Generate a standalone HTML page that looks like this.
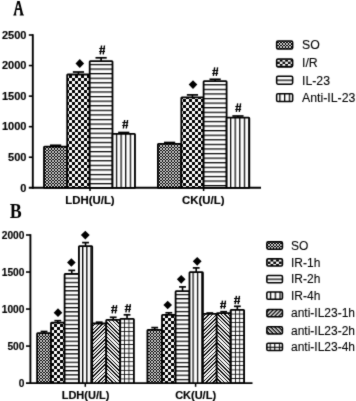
<!DOCTYPE html>
<html><head><meta charset="utf-8"><style>
html,body{margin:0;padding:0;background:#fff;}
body{width:356px;height:401px;overflow:hidden;}
svg{display:block;filter:grayscale(1);}
.ax{font-family:"Liberation Sans",sans-serif;font-weight:bold;font-size:11px;stroke:#000;stroke-width:0.15px;}
.axl{font-family:"Liberation Sans",sans-serif;font-weight:bold;font-size:11.4px;stroke:#000;stroke-width:0.15px;}
.ax2{font-family:"Liberation Sans",sans-serif;font-weight:bold;font-size:10.2px;stroke:#000;stroke-width:0.15px;}
.lg{font-family:"Liberation Sans",sans-serif;font-size:12px;stroke:#000;stroke-width:0.1px;}
.lga{font-family:"Liberation Sans",sans-serif;font-size:12.3px;stroke:#000;stroke-width:0.1px;}
</style></head><body>
<svg width="356" height="401" viewBox="0 0 356 401">
<defs>
<filter id="soft" x="0" y="0" width="356" height="401" filterUnits="userSpaceOnUse" color-interpolation-filters="sRGB"><feConvolveMatrix order="3" kernelMatrix="0.02 0.08 0.02 0.08 0.6 0.08 0.02 0.08 0.02" edgeMode="duplicate" preserveAlpha="true"/></filter>
<pattern id="so1" patternUnits="userSpaceOnUse" x="0" y="0" width="3" height="3"><rect width="3" height="3" fill="#000"/><rect width="1" height="1" fill="#fff"/><rect x="1" y="1" width="2" height="2" fill="#c4c4c4"/></pattern>
<pattern id="ck2" patternUnits="userSpaceOnUse" x="0" y="0" width="6" height="6"><rect width="6" height="6" fill="#fff"/><rect width="3" height="3" fill="#000"/><rect x="3" y="3" width="3" height="3" fill="#000"/></pattern>
<pattern id="h3" patternUnits="userSpaceOnUse" x="0" y="63.875" width="20" height="4.585"><rect width="20" height="4.585" fill="#fff"/><rect width="20" height="1.25" fill="#000"/></pattern>
<pattern id="v4" patternUnits="userSpaceOnUse" x="115.875" y="0" width="4.62" height="20"><rect width="4.62" height="20" fill="#fff"/><rect width="1.25" height="20" fill="#000"/></pattern>
<pattern id="so5" patternUnits="userSpaceOnUse" x="0" y="0" width="3" height="3"><rect width="3" height="3" fill="#000"/><rect width="1" height="1" fill="#fff"/><rect x="1" y="1" width="2" height="2" fill="#c4c4c4"/></pattern>
<pattern id="ck6" patternUnits="userSpaceOnUse" x="0" y="0" width="6" height="6"><rect width="6" height="6" fill="#fff"/><rect width="3" height="3" fill="#000"/><rect x="3" y="3" width="3" height="3" fill="#000"/></pattern>
<pattern id="h7" patternUnits="userSpaceOnUse" x="0" y="84.175" width="20" height="4.585"><rect width="20" height="4.585" fill="#fff"/><rect width="20" height="1.25" fill="#000"/></pattern>
<pattern id="v8" patternUnits="userSpaceOnUse" x="229.975" y="0" width="4.6" height="20"><rect width="4.6" height="20" fill="#fff"/><rect width="1.25" height="20" fill="#000"/></pattern>
<pattern id="so9" patternUnits="userSpaceOnUse" x="0" y="0" width="3" height="3"><rect width="3" height="3" fill="#000"/><rect width="1" height="1" fill="#fff"/><rect x="1" y="1" width="2" height="2" fill="#c4c4c4"/></pattern>
<pattern id="ck10" patternUnits="userSpaceOnUse" x="274.4" y="59.6" width="5.4" height="4.3"><rect width="5.4" height="4.3" fill="#fff"/><rect width="2.7" height="2.15" fill="#000"/><rect x="2.7" y="2.15" width="2.7" height="2.15" fill="#000"/></pattern>
<pattern id="h11" patternUnits="userSpaceOnUse" x="0" y="79.55" width="20" height="10"><rect width="20" height="10" fill="#fff"/><rect width="20" height="1.3" fill="#000"/></pattern>
<pattern id="v12" patternUnits="userSpaceOnUse" x="279.25" y="0" width="4.75" height="20"><rect width="4.75" height="20" fill="#fff"/><rect width="1.3" height="20" fill="#000"/></pattern>
<pattern id="so13" patternUnits="userSpaceOnUse" x="0" y="0" width="3" height="3"><rect width="3" height="3" fill="#000"/><rect width="1" height="1" fill="#fff"/><rect x="1" y="1" width="2" height="2" fill="#c4c4c4"/></pattern>
<pattern id="ck14" patternUnits="userSpaceOnUse" x="0" y="0" width="6" height="6"><rect width="6" height="6" fill="#fff"/><rect width="3" height="3" fill="#000"/><rect x="3" y="3" width="3" height="3" fill="#000"/></pattern>
<pattern id="h15" patternUnits="userSpaceOnUse" x="0" y="277.575" width="20" height="4.204"><rect width="20" height="4.204" fill="#fff"/><rect width="20" height="1.25" fill="#000"/></pattern>
<pattern id="v16" patternUnits="userSpaceOnUse" x="82.075" y="0" width="4.15" height="20"><rect width="4.15" height="20" fill="#fff"/><rect width="1.25" height="20" fill="#000"/></pattern>
<pattern id="pd17" patternUnits="userSpaceOnUse" width="18" height="18"><rect width="18" height="18" fill="#fff"/><rect x="0" y="0" width="2" height="1"/><rect x="4" y="0" width="1" height="1"/><rect x="8" y="0" width="1" height="1"/><rect x="11" y="0" width="2" height="1"/><rect x="15" y="0" width="1" height="1"/><rect x="0" y="1" width="1" height="1"/><rect x="3" y="1" width="1" height="1"/><rect x="7" y="1" width="1" height="1"/><rect x="10" y="1" width="2" height="1"/><rect x="14" y="1" width="1" height="1"/><rect x="17" y="1" width="1" height="1"/><rect x="2" y="2" width="1" height="1"/><rect x="6" y="2" width="1" height="1"/><rect x="9" y="2" width="2" height="1"/><rect x="13" y="2" width="1" height="1"/><rect x="16" y="2" width="2" height="1"/><rect x="1" y="3" width="1" height="1"/><rect x="5" y="3" width="1" height="1"/><rect x="8" y="3" width="2" height="1"/><rect x="12" y="3" width="1" height="1"/><rect x="15" y="3" width="2" height="1"/><rect x="0" y="4" width="1" height="1"/><rect x="4" y="4" width="1" height="1"/><rect x="7" y="4" width="2" height="1"/><rect x="11" y="4" width="1" height="1"/><rect x="14" y="4" width="2" height="1"/><rect x="3" y="5" width="1" height="1"/><rect x="6" y="5" width="2" height="1"/><rect x="10" y="5" width="1" height="1"/><rect x="13" y="5" width="2" height="1"/><rect x="17" y="5" width="1" height="1"/><rect x="2" y="6" width="1" height="1"/><rect x="5" y="6" width="2" height="1"/><rect x="9" y="6" width="1" height="1"/><rect x="12" y="6" width="2" height="1"/><rect x="16" y="6" width="1" height="1"/><rect x="1" y="7" width="1" height="1"/><rect x="4" y="7" width="2" height="1"/><rect x="8" y="7" width="1" height="1"/><rect x="11" y="7" width="2" height="1"/><rect x="15" y="7" width="1" height="1"/><rect x="0" y="8" width="1" height="1"/><rect x="3" y="8" width="2" height="1"/><rect x="7" y="8" width="1" height="1"/><rect x="10" y="8" width="2" height="1"/><rect x="14" y="8" width="1" height="1"/><rect x="2" y="9" width="2" height="1"/><rect x="6" y="9" width="1" height="1"/><rect x="9" y="9" width="2" height="1"/><rect x="13" y="9" width="1" height="1"/><rect x="17" y="9" width="1" height="1"/><rect x="1" y="10" width="2" height="1"/><rect x="5" y="10" width="1" height="1"/><rect x="8" y="10" width="2" height="1"/><rect x="12" y="10" width="1" height="1"/><rect x="16" y="10" width="1" height="1"/><rect x="0" y="11" width="2" height="1"/><rect x="4" y="11" width="1" height="1"/><rect x="7" y="11" width="2" height="1"/><rect x="11" y="11" width="1" height="1"/><rect x="15" y="11" width="1" height="1"/><rect x="0" y="12" width="1" height="1"/><rect x="3" y="12" width="1" height="1"/><rect x="6" y="12" width="2" height="1"/><rect x="10" y="12" width="1" height="1"/><rect x="14" y="12" width="1" height="1"/><rect x="17" y="12" width="1" height="1"/><rect x="2" y="13" width="1" height="1"/><rect x="5" y="13" width="2" height="1"/><rect x="9" y="13" width="1" height="1"/><rect x="13" y="13" width="1" height="1"/><rect x="16" y="13" width="2" height="1"/><rect x="1" y="14" width="1" height="1"/><rect x="4" y="14" width="2" height="1"/><rect x="8" y="14" width="1" height="1"/><rect x="12" y="14" width="1" height="1"/><rect x="15" y="14" width="2" height="1"/><rect x="0" y="15" width="1" height="1"/><rect x="3" y="15" width="2" height="1"/><rect x="7" y="15" width="1" height="1"/><rect x="11" y="15" width="1" height="1"/><rect x="14" y="15" width="2" height="1"/><rect x="2" y="16" width="2" height="1"/><rect x="6" y="16" width="1" height="1"/><rect x="10" y="16" width="1" height="1"/><rect x="13" y="16" width="2" height="1"/><rect x="17" y="16" width="1" height="1"/><rect x="1" y="17" width="2" height="1"/><rect x="5" y="17" width="1" height="1"/><rect x="9" y="17" width="1" height="1"/><rect x="12" y="17" width="2" height="1"/><rect x="16" y="17" width="1" height="1"/></pattern>
<pattern id="pd18" patternUnits="userSpaceOnUse" width="18" height="18"><rect width="18" height="18" fill="#fff"/><rect x="0" y="0" width="2" height="1"/><rect x="4" y="0" width="1" height="1"/><rect x="8" y="0" width="1" height="1"/><rect x="11" y="0" width="2" height="1"/><rect x="15" y="0" width="1" height="1"/><rect x="1" y="1" width="2" height="1"/><rect x="5" y="1" width="1" height="1"/><rect x="9" y="1" width="1" height="1"/><rect x="12" y="1" width="2" height="1"/><rect x="16" y="1" width="1" height="1"/><rect x="2" y="2" width="2" height="1"/><rect x="6" y="2" width="1" height="1"/><rect x="10" y="2" width="1" height="1"/><rect x="13" y="2" width="2" height="1"/><rect x="17" y="2" width="1" height="1"/><rect x="0" y="3" width="1" height="1"/><rect x="3" y="3" width="2" height="1"/><rect x="7" y="3" width="1" height="1"/><rect x="11" y="3" width="1" height="1"/><rect x="14" y="3" width="2" height="1"/><rect x="1" y="4" width="1" height="1"/><rect x="4" y="4" width="2" height="1"/><rect x="8" y="4" width="1" height="1"/><rect x="12" y="4" width="1" height="1"/><rect x="15" y="4" width="2" height="1"/><rect x="2" y="5" width="1" height="1"/><rect x="5" y="5" width="2" height="1"/><rect x="9" y="5" width="1" height="1"/><rect x="13" y="5" width="1" height="1"/><rect x="16" y="5" width="2" height="1"/><rect x="0" y="6" width="1" height="1"/><rect x="3" y="6" width="1" height="1"/><rect x="6" y="6" width="2" height="1"/><rect x="10" y="6" width="1" height="1"/><rect x="14" y="6" width="1" height="1"/><rect x="17" y="6" width="1" height="1"/><rect x="0" y="7" width="2" height="1"/><rect x="4" y="7" width="1" height="1"/><rect x="7" y="7" width="2" height="1"/><rect x="11" y="7" width="1" height="1"/><rect x="15" y="7" width="1" height="1"/><rect x="1" y="8" width="2" height="1"/><rect x="5" y="8" width="1" height="1"/><rect x="8" y="8" width="2" height="1"/><rect x="12" y="8" width="1" height="1"/><rect x="16" y="8" width="1" height="1"/><rect x="2" y="9" width="2" height="1"/><rect x="6" y="9" width="1" height="1"/><rect x="9" y="9" width="2" height="1"/><rect x="13" y="9" width="1" height="1"/><rect x="17" y="9" width="1" height="1"/><rect x="0" y="10" width="1" height="1"/><rect x="3" y="10" width="2" height="1"/><rect x="7" y="10" width="1" height="1"/><rect x="10" y="10" width="2" height="1"/><rect x="14" y="10" width="1" height="1"/><rect x="1" y="11" width="1" height="1"/><rect x="4" y="11" width="2" height="1"/><rect x="8" y="11" width="1" height="1"/><rect x="11" y="11" width="2" height="1"/><rect x="15" y="11" width="1" height="1"/><rect x="2" y="12" width="1" height="1"/><rect x="5" y="12" width="2" height="1"/><rect x="9" y="12" width="1" height="1"/><rect x="12" y="12" width="2" height="1"/><rect x="16" y="12" width="1" height="1"/><rect x="3" y="13" width="1" height="1"/><rect x="6" y="13" width="2" height="1"/><rect x="10" y="13" width="1" height="1"/><rect x="13" y="13" width="2" height="1"/><rect x="17" y="13" width="1" height="1"/><rect x="0" y="14" width="1" height="1"/><rect x="4" y="14" width="1" height="1"/><rect x="7" y="14" width="2" height="1"/><rect x="11" y="14" width="1" height="1"/><rect x="14" y="14" width="2" height="1"/><rect x="1" y="15" width="1" height="1"/><rect x="5" y="15" width="1" height="1"/><rect x="8" y="15" width="2" height="1"/><rect x="12" y="15" width="1" height="1"/><rect x="15" y="15" width="2" height="1"/><rect x="2" y="16" width="1" height="1"/><rect x="6" y="16" width="1" height="1"/><rect x="9" y="16" width="2" height="1"/><rect x="13" y="16" width="1" height="1"/><rect x="16" y="16" width="2" height="1"/><rect x="0" y="17" width="1" height="1"/><rect x="3" y="17" width="1" height="1"/><rect x="7" y="17" width="1" height="1"/><rect x="10" y="17" width="2" height="1"/><rect x="14" y="17" width="1" height="1"/><rect x="17" y="17" width="1" height="1"/></pattern>
<pattern id="g19" patternUnits="userSpaceOnUse" x="124" y="322.6" width="4.5" height="4.3"><rect width="4.5" height="4.3" fill="#fff"/><rect width="0.8" height="4.3" fill="#000"/><rect width="4.5" height="0.8" fill="#000"/></pattern>
<pattern id="so20" patternUnits="userSpaceOnUse" x="0" y="0" width="3" height="3"><rect width="3" height="3" fill="#000"/><rect width="1" height="1" fill="#fff"/><rect x="1" y="1" width="2" height="2" fill="#c4c4c4"/></pattern>
<pattern id="ck21" patternUnits="userSpaceOnUse" x="0" y="0" width="6" height="6"><rect width="6" height="6" fill="#fff"/><rect width="3" height="3" fill="#000"/><rect x="3" y="3" width="3" height="3" fill="#000"/></pattern>
<pattern id="h22" patternUnits="userSpaceOnUse" x="0" y="293.875" width="20" height="4.25"><rect width="20" height="4.25" fill="#fff"/><rect width="20" height="1.25" fill="#000"/></pattern>
<pattern id="v23" patternUnits="userSpaceOnUse" x="192.475" y="0" width="4.4" height="20"><rect width="4.4" height="20" fill="#fff"/><rect width="1.25" height="20" fill="#000"/></pattern>
<pattern id="pd24" patternUnits="userSpaceOnUse" width="18" height="18"><rect width="18" height="18" fill="#fff"/><rect x="0" y="0" width="2" height="1"/><rect x="4" y="0" width="1" height="1"/><rect x="8" y="0" width="1" height="1"/><rect x="11" y="0" width="2" height="1"/><rect x="15" y="0" width="1" height="1"/><rect x="0" y="1" width="1" height="1"/><rect x="3" y="1" width="1" height="1"/><rect x="7" y="1" width="1" height="1"/><rect x="10" y="1" width="2" height="1"/><rect x="14" y="1" width="1" height="1"/><rect x="17" y="1" width="1" height="1"/><rect x="2" y="2" width="1" height="1"/><rect x="6" y="2" width="1" height="1"/><rect x="9" y="2" width="2" height="1"/><rect x="13" y="2" width="1" height="1"/><rect x="16" y="2" width="2" height="1"/><rect x="1" y="3" width="1" height="1"/><rect x="5" y="3" width="1" height="1"/><rect x="8" y="3" width="2" height="1"/><rect x="12" y="3" width="1" height="1"/><rect x="15" y="3" width="2" height="1"/><rect x="0" y="4" width="1" height="1"/><rect x="4" y="4" width="1" height="1"/><rect x="7" y="4" width="2" height="1"/><rect x="11" y="4" width="1" height="1"/><rect x="14" y="4" width="2" height="1"/><rect x="3" y="5" width="1" height="1"/><rect x="6" y="5" width="2" height="1"/><rect x="10" y="5" width="1" height="1"/><rect x="13" y="5" width="2" height="1"/><rect x="17" y="5" width="1" height="1"/><rect x="2" y="6" width="1" height="1"/><rect x="5" y="6" width="2" height="1"/><rect x="9" y="6" width="1" height="1"/><rect x="12" y="6" width="2" height="1"/><rect x="16" y="6" width="1" height="1"/><rect x="1" y="7" width="1" height="1"/><rect x="4" y="7" width="2" height="1"/><rect x="8" y="7" width="1" height="1"/><rect x="11" y="7" width="2" height="1"/><rect x="15" y="7" width="1" height="1"/><rect x="0" y="8" width="1" height="1"/><rect x="3" y="8" width="2" height="1"/><rect x="7" y="8" width="1" height="1"/><rect x="10" y="8" width="2" height="1"/><rect x="14" y="8" width="1" height="1"/><rect x="2" y="9" width="2" height="1"/><rect x="6" y="9" width="1" height="1"/><rect x="9" y="9" width="2" height="1"/><rect x="13" y="9" width="1" height="1"/><rect x="17" y="9" width="1" height="1"/><rect x="1" y="10" width="2" height="1"/><rect x="5" y="10" width="1" height="1"/><rect x="8" y="10" width="2" height="1"/><rect x="12" y="10" width="1" height="1"/><rect x="16" y="10" width="1" height="1"/><rect x="0" y="11" width="2" height="1"/><rect x="4" y="11" width="1" height="1"/><rect x="7" y="11" width="2" height="1"/><rect x="11" y="11" width="1" height="1"/><rect x="15" y="11" width="1" height="1"/><rect x="0" y="12" width="1" height="1"/><rect x="3" y="12" width="1" height="1"/><rect x="6" y="12" width="2" height="1"/><rect x="10" y="12" width="1" height="1"/><rect x="14" y="12" width="1" height="1"/><rect x="17" y="12" width="1" height="1"/><rect x="2" y="13" width="1" height="1"/><rect x="5" y="13" width="2" height="1"/><rect x="9" y="13" width="1" height="1"/><rect x="13" y="13" width="1" height="1"/><rect x="16" y="13" width="2" height="1"/><rect x="1" y="14" width="1" height="1"/><rect x="4" y="14" width="2" height="1"/><rect x="8" y="14" width="1" height="1"/><rect x="12" y="14" width="1" height="1"/><rect x="15" y="14" width="2" height="1"/><rect x="0" y="15" width="1" height="1"/><rect x="3" y="15" width="2" height="1"/><rect x="7" y="15" width="1" height="1"/><rect x="11" y="15" width="1" height="1"/><rect x="14" y="15" width="2" height="1"/><rect x="2" y="16" width="2" height="1"/><rect x="6" y="16" width="1" height="1"/><rect x="10" y="16" width="1" height="1"/><rect x="13" y="16" width="2" height="1"/><rect x="17" y="16" width="1" height="1"/><rect x="1" y="17" width="2" height="1"/><rect x="5" y="17" width="1" height="1"/><rect x="9" y="17" width="1" height="1"/><rect x="12" y="17" width="2" height="1"/><rect x="16" y="17" width="1" height="1"/></pattern>
<pattern id="pd25" patternUnits="userSpaceOnUse" width="18" height="18"><rect width="18" height="18" fill="#fff"/><rect x="0" y="0" width="2" height="1"/><rect x="4" y="0" width="1" height="1"/><rect x="8" y="0" width="1" height="1"/><rect x="11" y="0" width="2" height="1"/><rect x="15" y="0" width="1" height="1"/><rect x="1" y="1" width="2" height="1"/><rect x="5" y="1" width="1" height="1"/><rect x="9" y="1" width="1" height="1"/><rect x="12" y="1" width="2" height="1"/><rect x="16" y="1" width="1" height="1"/><rect x="2" y="2" width="2" height="1"/><rect x="6" y="2" width="1" height="1"/><rect x="10" y="2" width="1" height="1"/><rect x="13" y="2" width="2" height="1"/><rect x="17" y="2" width="1" height="1"/><rect x="0" y="3" width="1" height="1"/><rect x="3" y="3" width="2" height="1"/><rect x="7" y="3" width="1" height="1"/><rect x="11" y="3" width="1" height="1"/><rect x="14" y="3" width="2" height="1"/><rect x="1" y="4" width="1" height="1"/><rect x="4" y="4" width="2" height="1"/><rect x="8" y="4" width="1" height="1"/><rect x="12" y="4" width="1" height="1"/><rect x="15" y="4" width="2" height="1"/><rect x="2" y="5" width="1" height="1"/><rect x="5" y="5" width="2" height="1"/><rect x="9" y="5" width="1" height="1"/><rect x="13" y="5" width="1" height="1"/><rect x="16" y="5" width="2" height="1"/><rect x="0" y="6" width="1" height="1"/><rect x="3" y="6" width="1" height="1"/><rect x="6" y="6" width="2" height="1"/><rect x="10" y="6" width="1" height="1"/><rect x="14" y="6" width="1" height="1"/><rect x="17" y="6" width="1" height="1"/><rect x="0" y="7" width="2" height="1"/><rect x="4" y="7" width="1" height="1"/><rect x="7" y="7" width="2" height="1"/><rect x="11" y="7" width="1" height="1"/><rect x="15" y="7" width="1" height="1"/><rect x="1" y="8" width="2" height="1"/><rect x="5" y="8" width="1" height="1"/><rect x="8" y="8" width="2" height="1"/><rect x="12" y="8" width="1" height="1"/><rect x="16" y="8" width="1" height="1"/><rect x="2" y="9" width="2" height="1"/><rect x="6" y="9" width="1" height="1"/><rect x="9" y="9" width="2" height="1"/><rect x="13" y="9" width="1" height="1"/><rect x="17" y="9" width="1" height="1"/><rect x="0" y="10" width="1" height="1"/><rect x="3" y="10" width="2" height="1"/><rect x="7" y="10" width="1" height="1"/><rect x="10" y="10" width="2" height="1"/><rect x="14" y="10" width="1" height="1"/><rect x="1" y="11" width="1" height="1"/><rect x="4" y="11" width="2" height="1"/><rect x="8" y="11" width="1" height="1"/><rect x="11" y="11" width="2" height="1"/><rect x="15" y="11" width="1" height="1"/><rect x="2" y="12" width="1" height="1"/><rect x="5" y="12" width="2" height="1"/><rect x="9" y="12" width="1" height="1"/><rect x="12" y="12" width="2" height="1"/><rect x="16" y="12" width="1" height="1"/><rect x="3" y="13" width="1" height="1"/><rect x="6" y="13" width="2" height="1"/><rect x="10" y="13" width="1" height="1"/><rect x="13" y="13" width="2" height="1"/><rect x="17" y="13" width="1" height="1"/><rect x="0" y="14" width="1" height="1"/><rect x="4" y="14" width="1" height="1"/><rect x="7" y="14" width="2" height="1"/><rect x="11" y="14" width="1" height="1"/><rect x="14" y="14" width="2" height="1"/><rect x="1" y="15" width="1" height="1"/><rect x="5" y="15" width="1" height="1"/><rect x="8" y="15" width="2" height="1"/><rect x="12" y="15" width="1" height="1"/><rect x="15" y="15" width="2" height="1"/><rect x="2" y="16" width="1" height="1"/><rect x="6" y="16" width="1" height="1"/><rect x="9" y="16" width="2" height="1"/><rect x="13" y="16" width="1" height="1"/><rect x="16" y="16" width="2" height="1"/><rect x="0" y="17" width="1" height="1"/><rect x="3" y="17" width="1" height="1"/><rect x="7" y="17" width="1" height="1"/><rect x="10" y="17" width="2" height="1"/><rect x="14" y="17" width="1" height="1"/><rect x="17" y="17" width="1" height="1"/></pattern>
<pattern id="g26" patternUnits="userSpaceOnUse" x="235" y="322.2" width="4.3" height="4.3"><rect width="4.3" height="4.3" fill="#fff"/><rect width="0.8" height="4.3" fill="#000"/><rect width="4.3" height="0.8" fill="#000"/></pattern>
<pattern id="so27" patternUnits="userSpaceOnUse" x="0" y="0" width="3" height="3"><rect width="3" height="3" fill="#000"/><rect width="1" height="1" fill="#fff"/><rect x="1" y="1" width="2" height="2" fill="#c4c4c4"/></pattern>
<pattern id="ck28" patternUnits="userSpaceOnUse" x="264.9" y="259.3" width="5.6" height="4.6"><rect width="5.6" height="4.6" fill="#fff"/><rect width="2.8" height="2.3" fill="#000"/><rect x="2.8" y="2.3" width="2.8" height="2.3" fill="#000"/></pattern>
<pattern id="h29" patternUnits="userSpaceOnUse" x="0" y="278.55" width="20" height="10"><rect width="20" height="10" fill="#fff"/><rect width="20" height="1.3" fill="#000"/></pattern>
<pattern id="v30" patternUnits="userSpaceOnUse" x="269.85" y="0" width="4.8" height="20"><rect width="4.8" height="20" fill="#fff"/><rect width="1.3" height="20" fill="#000"/></pattern>
<pattern id="d31" patternUnits="userSpaceOnUse" x="0" width="20" height="2.8" patternTransform="rotate(-45)"><rect width="20" height="2.8" fill="#fff"/><rect width="20" height="1.4" fill="#000"/></pattern>
<pattern id="d32" patternUnits="userSpaceOnUse" x="0" width="20" height="2.8" patternTransform="rotate(45)"><rect width="20" height="2.8" fill="#fff"/><rect width="20" height="1.4" fill="#000"/></pattern>
<pattern id="g33" patternUnits="userSpaceOnUse" x="269.65" y="346.75" width="4.6" height="10"><rect width="4.6" height="10" fill="#fff"/><rect width="1.1" height="10" fill="#000"/><rect width="4.6" height="1.1" fill="#000"/></pattern>
</defs>
<g filter="url(#soft)">
<rect width="356" height="401" fill="#fff"/>
<line x1="32.8" y1="34.2" x2="32.8" y2="188.7" stroke="#000" stroke-width="1.9"/>
<line x1="28.8" y1="187.8" x2="261" y2="187.8" stroke="#000" stroke-width="1.9"/>
<line x1="28.8" y1="157.24" x2="33" y2="157.24" stroke="#000" stroke-width="1.6"/>
<line x1="28.8" y1="126.68" x2="33" y2="126.68" stroke="#000" stroke-width="1.6"/>
<line x1="28.8" y1="96.12" x2="33" y2="96.12" stroke="#000" stroke-width="1.6"/>
<line x1="28.8" y1="65.56" x2="33" y2="65.56" stroke="#000" stroke-width="1.6"/>
<line x1="28.8" y1="35" x2="33" y2="35" stroke="#000" stroke-width="1.6"/>
<text x="26.4" y="191.6" class="ax" text-anchor="end">0</text>
<text x="26.4" y="161.04" class="ax" text-anchor="end">500</text>
<text x="26.4" y="130.48" class="ax" text-anchor="end">1000</text>
<text x="26.4" y="99.92" class="ax" text-anchor="end">1500</text>
<text x="26.4" y="69.36" class="ax" text-anchor="end">2000</text>
<text x="26.4" y="38.8" class="ax" text-anchor="end">2500</text>
<rect x="44" y="146.7" width="23.2" height="41.1" fill="url(#so1)" stroke="#000" stroke-width="1.8" rx="0.6"/>
<rect x="67.2" y="74.5" width="22.5" height="113.3" fill="url(#ck2)" stroke="#000" stroke-width="1.8" rx="0.6"/>
<rect x="89.7" y="61.2" width="22.8" height="126.6" fill="url(#h3)" stroke="#000" stroke-width="1.8" rx="0.6"/>
<rect x="112.5" y="133.8" width="22.5" height="54" fill="url(#v4)" stroke="#000" stroke-width="1.8" rx="0.6"/>
<line x1="55.6" y1="146.7" x2="55.6" y2="145.3" stroke="#000" stroke-width="1.6"/>
<line x1="50" y1="145.3" x2="61.2" y2="145.3" stroke="#000" stroke-width="1.7"/>
<line x1="78.45" y1="74.5" x2="78.45" y2="72" stroke="#000" stroke-width="1.6"/>
<line x1="72.85" y1="72" x2="84.05" y2="72" stroke="#000" stroke-width="1.7"/>
<line x1="101.1" y1="61.2" x2="101.1" y2="57.8" stroke="#000" stroke-width="1.6"/>
<line x1="95.5" y1="57.8" x2="106.7" y2="57.8" stroke="#000" stroke-width="1.7"/>
<line x1="123.75" y1="133.8" x2="123.75" y2="132.5" stroke="#000" stroke-width="1.6"/>
<line x1="118.15" y1="132.5" x2="129.35" y2="132.5" stroke="#000" stroke-width="1.7"/>
<rect x="157.9" y="143.9" width="23.4" height="43.9" fill="url(#so5)" stroke="#000" stroke-width="1.8" rx="0.6"/>
<rect x="181.3" y="97.4" width="22.3" height="90.4" fill="url(#ck6)" stroke="#000" stroke-width="1.8" rx="0.6"/>
<rect x="203.6" y="81.1" width="23" height="106.7" fill="url(#h7)" stroke="#000" stroke-width="1.8" rx="0.6"/>
<rect x="226.6" y="117.7" width="22.7" height="70.1" fill="url(#v8)" stroke="#000" stroke-width="1.8" rx="0.6"/>
<line x1="169.6" y1="143.9" x2="169.6" y2="142.5" stroke="#000" stroke-width="1.6"/>
<line x1="164" y1="142.5" x2="175.2" y2="142.5" stroke="#000" stroke-width="1.7"/>
<line x1="192.45" y1="97.4" x2="192.45" y2="94.9" stroke="#000" stroke-width="1.6"/>
<line x1="186.85" y1="94.9" x2="198.05" y2="94.9" stroke="#000" stroke-width="1.7"/>
<line x1="215.1" y1="81.1" x2="215.1" y2="79.3" stroke="#000" stroke-width="1.6"/>
<line x1="209.5" y1="79.3" x2="220.7" y2="79.3" stroke="#000" stroke-width="1.7"/>
<line x1="237.95" y1="117.7" x2="237.95" y2="116" stroke="#000" stroke-width="1.6"/>
<line x1="232.35" y1="116" x2="243.55" y2="116" stroke="#000" stroke-width="1.7"/>
<line x1="90.0" y1="187.8" x2="90.0" y2="191" stroke="#000" stroke-width="1.5"/>
<line x1="203.6" y1="187.8" x2="203.6" y2="191" stroke="#000" stroke-width="1.5"/>
<text x="90" y="203.5" class="axl" text-anchor="middle">LDH(U/L)</text>
<text x="203.3" y="203.5" class="axl" text-anchor="middle">CK(U/L)</text>
<polygon points="79.8,59.05 84.1,63.5 79.8,67.95 75.5,63.5" fill="#000"/>
<polygon points="193,80.15 197.3,84.6 193,89.05 188.7,84.6" fill="#000"/>
<path d="M101.58,45.5L100.25,54.4M104.5,45.5L103.2,54.4" stroke="#000" stroke-width="1.4" fill="none"/>
<path d="M99.2,48.5L105.1,48.5M99.1,51.5L105,51.5" stroke="#000" stroke-width="1.1" fill="none"/>
<path d="M124.68,119.991L123.35,128.509M127.6,119.991L126.3,128.509" stroke="#000" stroke-width="1.4" fill="none"/>
<path d="M122.3,122.5L128.2,122.5M122.2,125.5L128.1,125.5" stroke="#000" stroke-width="1.1" fill="none"/>
<path d="M214.68,67.389L213.35,75.811M217.6,67.389L216.3,75.811" stroke="#000" stroke-width="1.4" fill="none"/>
<path d="M212.3,70.5L218.2,70.5M212.2,73.5L218.1,73.5" stroke="#000" stroke-width="1.1" fill="none"/>
<path d="M237.68,103.389L236.35,111.811M240.6,103.389L239.3,111.811" stroke="#000" stroke-width="1.4" fill="none"/>
<path d="M235.3,106.5L241.2,106.5M235.2,109.5L241.1,109.5" stroke="#000" stroke-width="1.1" fill="none"/>
<rect x="276.65" y="41.05" width="16.0" height="7.9" fill="url(#so9)" stroke="#000" stroke-width="1.55" rx="1.3"/>
<text x="302.0" y="49.3" class="lga">SO</text>
<rect x="276.65" y="58.95" width="16.0" height="7.9" fill="url(#ck10)" stroke="#000" stroke-width="1.55" rx="1.3"/>
<text x="302.0" y="67.2" class="lga">I/R</text>
<rect x="276.65" y="76.25" width="16.0" height="7.9" fill="url(#h11)" stroke="#000" stroke-width="1.55" rx="1.3"/>
<text x="302.0" y="84.5" class="lga">IL-23</text>
<rect x="276.65" y="93.65" width="16.0" height="7.9" fill="url(#v12)" stroke="#000" stroke-width="1.55" rx="1.3"/>
<text x="302.0" y="101.9" class="lga">Anti-IL-23</text>
<path fill-rule="evenodd" fill="#000" d="M13.3,15.5H16.4V14.6H15.95L16.45,9.9H19.95L20.45,14.6H19.7V15.5H23.9V14.6H23.2L19.75,0.9H17.25L13.9,14.6H13.3Z M16.75,8.3L18.15,3.6L19.55,8.3Z"/>
<text x="0" y="0" font-family="Liberation Serif" font-weight="bold" font-size="21.3" transform="translate(9.7,217.6) scale(0.84,1)">B</text>
<line x1="30.4" y1="234.2" x2="30.4" y2="384" stroke="#000" stroke-width="1.9"/>
<line x1="26.0" y1="383.1" x2="252.5" y2="383.1" stroke="#000" stroke-width="1.9"/>
<line x1="26.0" y1="346.075" x2="30.6" y2="346.075" stroke="#000" stroke-width="1.6"/>
<line x1="26.0" y1="309.05" x2="30.6" y2="309.05" stroke="#000" stroke-width="1.6"/>
<line x1="26.0" y1="272.025" x2="30.6" y2="272.025" stroke="#000" stroke-width="1.6"/>
<line x1="26.0" y1="235" x2="30.6" y2="235" stroke="#000" stroke-width="1.6"/>
<text x="24.4" y="386.9" class="ax2" text-anchor="end">0</text>
<text x="24.4" y="349.875" class="ax2" text-anchor="end">500</text>
<text x="24.4" y="312.85" class="ax2" text-anchor="end">1000</text>
<text x="24.4" y="275.825" class="ax2" text-anchor="end">1500</text>
<text x="24.4" y="238.8" class="ax2" text-anchor="end">2000</text>
<rect x="37.1" y="333.2" width="13.9" height="49.9" fill="url(#so13)" stroke="#000" stroke-width="1.8" rx="0.6"/>
<rect x="51" y="322.7" width="13.6" height="60.4" fill="url(#ck14)" stroke="#000" stroke-width="1.8" rx="0.6"/>
<rect x="64.6" y="273.8" width="14.3" height="109.3" fill="url(#h15)" stroke="#000" stroke-width="1.8" rx="0.6"/>
<rect x="78.9" y="246.1" width="13.3" height="137" fill="url(#v16)" stroke="#000" stroke-width="1.8" rx="0.6"/>
<rect x="92.2" y="323.5" width="14" height="59.6" fill="url(#pd17)" stroke="#000" stroke-width="1.8" rx="0.6"/>
<rect x="106.2" y="319.9" width="14" height="63.2" fill="url(#pd18)" stroke="#000" stroke-width="1.8" rx="0.6"/>
<rect x="120.2" y="318.8" width="13.7" height="64.3" fill="url(#g19)" stroke="#000" stroke-width="1.8" rx="0.6"/>
<line x1="44.05" y1="333.2" x2="44.05" y2="331.5" stroke="#000" stroke-width="1.6"/>
<line x1="40.65" y1="331.5" x2="47.45" y2="331.5" stroke="#000" stroke-width="1.7"/>
<line x1="57.8" y1="322.7" x2="57.8" y2="320.7" stroke="#000" stroke-width="1.6"/>
<line x1="54.4" y1="320.7" x2="61.2" y2="320.7" stroke="#000" stroke-width="1.7"/>
<line x1="71.75" y1="273.8" x2="71.75" y2="270.4" stroke="#000" stroke-width="1.6"/>
<line x1="68.35" y1="270.4" x2="75.15" y2="270.4" stroke="#000" stroke-width="1.7"/>
<line x1="85.55" y1="246.1" x2="85.55" y2="242.6" stroke="#000" stroke-width="1.6"/>
<line x1="82.15" y1="242.6" x2="88.95" y2="242.6" stroke="#000" stroke-width="1.7"/>
<line x1="99.2" y1="323.5" x2="99.2" y2="322.2" stroke="#000" stroke-width="1.6"/>
<line x1="95.8" y1="322.2" x2="102.6" y2="322.2" stroke="#000" stroke-width="1.7"/>
<line x1="113.2" y1="319.9" x2="113.2" y2="317.3" stroke="#000" stroke-width="1.6"/>
<line x1="109.8" y1="317.3" x2="116.6" y2="317.3" stroke="#000" stroke-width="1.7"/>
<line x1="127.05" y1="318.8" x2="127.05" y2="314.8" stroke="#000" stroke-width="1.6"/>
<line x1="123.65" y1="314.8" x2="130.45" y2="314.8" stroke="#000" stroke-width="1.7"/>
<rect x="147.4" y="329.8" width="14.6" height="53.3" fill="url(#so20)" stroke="#000" stroke-width="1.8" rx="0.6"/>
<rect x="162" y="314.8" width="13.6" height="68.3" fill="url(#ck21)" stroke="#000" stroke-width="1.8" rx="0.6"/>
<rect x="175.6" y="291.1" width="13.9" height="92" fill="url(#h22)" stroke="#000" stroke-width="1.8" rx="0.6"/>
<rect x="189.5" y="272.1" width="13.4" height="111" fill="url(#v23)" stroke="#000" stroke-width="1.8" rx="0.6"/>
<rect x="202.9" y="313.9" width="13.8" height="69.2" fill="url(#pd24)" stroke="#000" stroke-width="1.8" rx="0.6"/>
<rect x="216.7" y="313.2" width="13.9" height="69.9" fill="url(#pd25)" stroke="#000" stroke-width="1.8" rx="0.6"/>
<rect x="230.6" y="309.9" width="13.5" height="73.2" fill="url(#g26)" stroke="#000" stroke-width="1.8" rx="0.6"/>
<line x1="154.7" y1="329.8" x2="154.7" y2="327.6" stroke="#000" stroke-width="1.6"/>
<line x1="151.3" y1="327.6" x2="158.1" y2="327.6" stroke="#000" stroke-width="1.7"/>
<line x1="168.8" y1="314.8" x2="168.8" y2="312.8" stroke="#000" stroke-width="1.6"/>
<line x1="165.4" y1="312.8" x2="172.2" y2="312.8" stroke="#000" stroke-width="1.7"/>
<line x1="182.55" y1="291.1" x2="182.55" y2="286.9" stroke="#000" stroke-width="1.6"/>
<line x1="179.15" y1="286.9" x2="185.95" y2="286.9" stroke="#000" stroke-width="1.7"/>
<line x1="196.2" y1="272.1" x2="196.2" y2="267.9" stroke="#000" stroke-width="1.6"/>
<line x1="192.8" y1="267.9" x2="199.6" y2="267.9" stroke="#000" stroke-width="1.7"/>
<line x1="209.8" y1="313.9" x2="209.8" y2="313" stroke="#000" stroke-width="1.6"/>
<line x1="206.4" y1="313" x2="213.2" y2="313" stroke="#000" stroke-width="1.7"/>
<line x1="223.65" y1="313.2" x2="223.65" y2="311.7" stroke="#000" stroke-width="1.6"/>
<line x1="220.25" y1="311.7" x2="227.05" y2="311.7" stroke="#000" stroke-width="1.7"/>
<line x1="237.35" y1="309.9" x2="237.35" y2="306.3" stroke="#000" stroke-width="1.6"/>
<line x1="233.95" y1="306.3" x2="240.75" y2="306.3" stroke="#000" stroke-width="1.7"/>
<line x1="85.3" y1="383.1" x2="85.3" y2="386.8" stroke="#000" stroke-width="1.5"/>
<line x1="195.6" y1="383.1" x2="195.6" y2="386.8" stroke="#000" stroke-width="1.5"/>
<text x="85.5" y="399" class="ax" text-anchor="middle">LDH(U/L)</text>
<text x="195.6" y="399" class="ax" text-anchor="middle">CK(U/L)</text>
<polygon points="58,308.35 62.3,312.65 58,316.95 53.7,312.65" fill="#000"/>
<polygon points="71.35,258.2 75.65,262.5 71.35,266.8 67.05,262.5" fill="#000"/>
<polygon points="85.3,230.7 89.7,235.1 85.3,239.5 80.9,235.1" fill="#000"/>
<polygon points="167.7,300.7 172,305 167.7,309.3 163.4,305" fill="#000"/>
<polygon points="181.2,274.9 185.5,279.3 181.2,283.7 176.9,279.3" fill="#000"/>
<polygon points="197.2,256.9 201.6,261.3 197.2,265.7 192.8,261.3" fill="#000"/>
<path d="M113.598,305.085L112.199,313.315M116.669,305.085L115.302,313.315" stroke="#000" stroke-width="1.4" fill="none"/>
<path d="M111.095,307.5L117.3,307.5M110.99,310.5L117.195,310.5" stroke="#000" stroke-width="1.1" fill="none"/>
<path d="M127.298,304.185L125.899,312.415M130.369,304.185L129.002,312.415" stroke="#000" stroke-width="1.4" fill="none"/>
<path d="M124.795,306.5L131,306.5M124.69,309.5L130.895,309.5" stroke="#000" stroke-width="1.1" fill="none"/>
<path d="M222.519,300.583L221.166,308.717M225.49,300.583L224.167,308.717" stroke="#000" stroke-width="1.4" fill="none"/>
<path d="M220.098,303.5L226.1,303.5M219.997,306.5L225.998,306.5" stroke="#000" stroke-width="1.1" fill="none"/>
<path d="M236.459,295.983L235.083,304.117M239.479,295.983L238.134,304.117" stroke="#000" stroke-width="1.4" fill="none"/>
<path d="M233.997,298.5L240.1,298.5M233.893,301.5L239.997,301.5" stroke="#000" stroke-width="1.1" fill="none"/>
<rect x="266.85" y="241.85" width="15.6" height="7.3" fill="url(#so27)" stroke="#000" stroke-width="1.55" rx="1.3"/>
<text x="291" y="249.7" class="lg">SO</text>
<rect x="266.85" y="258.65" width="15.6" height="7.3" fill="url(#ck28)" stroke="#000" stroke-width="1.55" rx="1.3"/>
<text x="291" y="266.5" class="lg">IR-1h</text>
<rect x="266.85" y="275.45" width="15.6" height="7.3" fill="url(#h29)" stroke="#000" stroke-width="1.55" rx="1.3"/>
<text x="291" y="283.3" class="lg">IR-2h</text>
<rect x="266.85" y="291.95" width="15.6" height="7.3" fill="url(#v30)" stroke="#000" stroke-width="1.55" rx="1.3"/>
<text x="291" y="299.8" class="lg">IR-4h</text>
<rect x="266.85" y="309.55" width="15.6" height="7.3" fill="url(#d31)" stroke="#000" stroke-width="1.55" rx="1.3"/>
<text x="291" y="317.4" class="lg">anti-IL23-1h</text>
<rect x="266.85" y="326.65" width="15.6" height="7.3" fill="url(#d32)" stroke="#000" stroke-width="1.55" rx="1.3"/>
<text x="291" y="334.5" class="lg">anti-IL23-2h</text>
<rect x="266.85" y="343.15" width="15.6" height="7.3" fill="url(#g33)" stroke="#000" stroke-width="1.55" rx="1.3"/>
<text x="291" y="351" class="lg">anti-IL23-4h</text>
</g>
</svg>
</body></html>
